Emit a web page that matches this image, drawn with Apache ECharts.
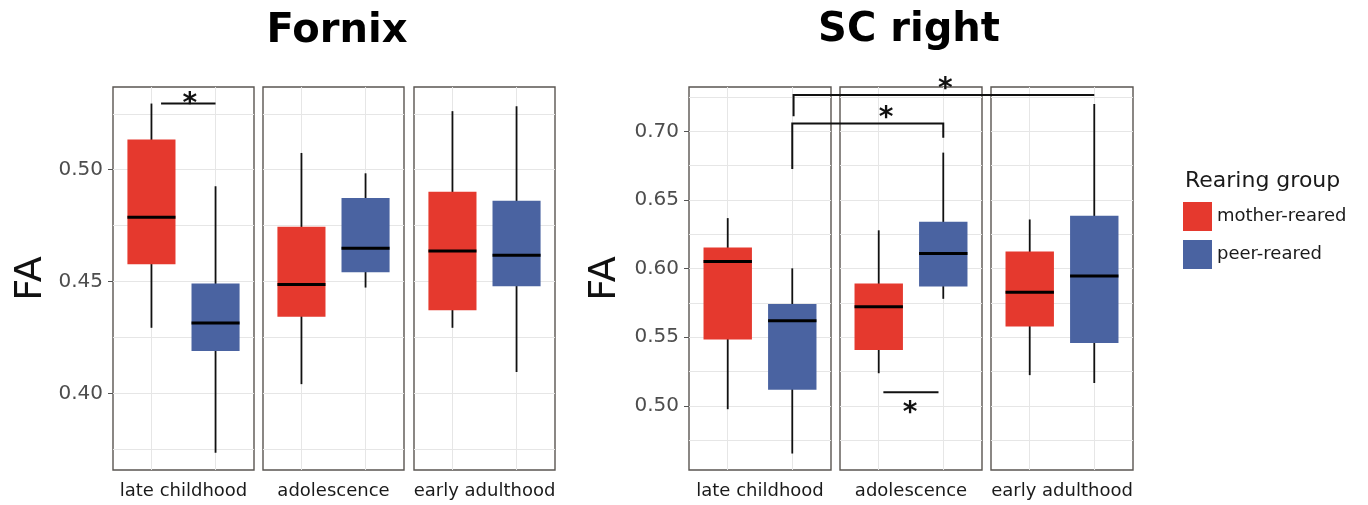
<!DOCTYPE html>
<html>
<head>
<meta charset="utf-8">
<script src="https://cdn.jsdelivr.net/npm/echarts@6/dist/echarts.min.js"></script>
<style>
  html, body { margin: 0; padding: 0; background: #fff; }
  #main { width: 1368px; height: 505px; }
</style>
</head>
<body>
<div id="main"></div>
<script>
// stages shown as facets
var stages = ['late childhood', 'adolescence', 'early adulthood'];
var groups = ['mother-reared', 'peer-reared'];

// box stats per stage: [min, Q1, median, Q3, max]
var fornixMother = [
    [0.4293, 0.4577, 0.4788, 0.5135, 0.5296],
    [0.4041, 0.4342, 0.4487, 0.4745, 0.5075],
    [0.4293, 0.4371, 0.4636, 0.4902, 0.5262]
];
var fornixPeer = [
    [0.3734, 0.4189, 0.4315, 0.4491, 0.4926],
    [0.4473, 0.4541, 0.4649, 0.4874, 0.4984],
    [0.4095, 0.4479, 0.4618, 0.4861, 0.5284]
];
var scMother = [
    [0.4976, 0.5484, 0.6051, 0.6154, 0.6368],
    [0.5238, 0.5407, 0.5723, 0.5892, 0.6279],
    [0.5224, 0.5578, 0.5827, 0.6125, 0.6358]
];
var scPeer = [
    [0.4653, 0.5118, 0.5621, 0.5742, 0.6002],
    [0.5780, 0.5870, 0.6110, 0.6342, 0.6845],
    [0.5166, 0.5458, 0.5947, 0.6385, 0.7199]
];

// axis ticks and grid lines
var fornixTicks = [0.40, 0.45, 0.50];
var fornixLines = [0.375, 0.40, 0.425, 0.45, 0.475, 0.50, 0.525];
var scTicks = [0.50, 0.55, 0.60, 0.65, 0.70];
var scLines = [0.475, 0.50, 0.525, 0.55, 0.575, 0.60, 0.625, 0.65, 0.675, 0.70, 0.725];

var RED = '#e5392e';
var BLUE = '#4a63a1';
var FONT = '"DejaVu Sans", sans-serif';

var panels = [
    { title: 'Fornix', mother: fornixMother, peer: fornixPeer, ticks: fornixTicks, lines: fornixLines,
      min: 0.3657, max: 0.5370, lefts: [113, 263, 414], width: 141, nameGap: 63 },
    { title: 'SC right', mother: scMother, peer: scPeer, ticks: scTicks, lines: scLines,
      min: 0.4533, max: 0.7323, lefts: [689, 840, 991], width: 142, nameGap: 65 }
];

function renderBox(params, api) {
    var x = api.value(0);
    var lo = api.coord([x, api.value(1)]);
    var q1 = api.coord([x, api.value(2)]);
    var med = api.coord([x, api.value(3)]);
    var q3 = api.coord([x, api.value(4)]);
    var hi = api.coord([x, api.value(5)]);
    var w = api.size([0.75, 0])[0];
    return {
        type: 'group',
        children: [
            { type: 'line', shape: { x1: lo[0], y1: lo[1], x2: hi[0], y2: hi[1] },
              style: { stroke: '#111', lineWidth: 1.8 } },
            { type: 'rect', shape: { x: q3[0] - w / 2, y: q3[1], width: w, height: q1[1] - q3[1] },
              style: { fill: api.visual('color') } },
            { type: 'line', shape: { x1: med[0] - w / 2, y1: med[1], x2: med[0] + w / 2, y2: med[1] },
              style: { stroke: '#000', lineWidth: 3 } }
        ]
    };
}

var grid = [], xAxis = [], yAxis = [], series = [];
panels.forEach(function (p, pi) {
    stages.forEach(function (st, fi) {
        var gi = pi * 3 + fi;
        grid.push({ left: p.lefts[fi], top: 87, width: p.width, height: 386,
                    show: true, borderColor: '#5a5551', borderWidth: 1.4, backgroundColor: '#fff' });
        xAxis.push({
            gridIndex: gi, type: 'value', min: 0.4, max: 2.6,
            axisLine: { show: false },
            axisTick: { show: false, customValues: [1, 2] },
            axisLabel: { show: false },
            splitLine: { show: true, lineStyle: { color: '#e6e6e6', width: 1 } },
            name: st, nameLocation: 'middle', nameGap: 12,
            nameTextStyle: { fontSize: 18, color: '#1a1a1a', fontFamily: FONT }
        });
        yAxis.push({
            gridIndex: gi, type: 'value', min: p.min, max: p.max,
            axisLine: { show: false },
            axisTick: { show: false, customValues: p.lines },
            axisLabel: { show: false },
            splitLine: { show: true, lineStyle: { color: '#e6e6e6', width: 1 } }
        });
        [p.mother, p.peer].forEach(function (arr, k) {
            series.push({
                type: 'custom',
                name: groups[k],
                xAxisIndex: gi, yAxisIndex: gi,
                itemStyle: { color: k === 0 ? RED : BLUE },
                renderItem: renderBox,
                encode: { x: 0, y: [1, 2, 3, 4, 5] },
                data: [[k + 1].concat(arr[fi])],
                clip: false,
                silent: true
            });
        });
    });
});

// label axes on the first facet of each panel
panels.forEach(function (p, pi) {
    yAxis.push({
        gridIndex: pi * 3, type: 'value', min: p.min, max: p.max, position: 'left',
        axisLine: { show: false },
        axisTick: { show: true, length: 5, customValues: p.ticks, lineStyle: { color: '#555' } },
        axisLabel: { customValues: p.ticks, margin: 10, fontSize: 20, color: '#4d4d4d', fontFamily: FONT,
                     formatter: function (v) { return v.toFixed(2); } },
        splitLine: { show: false },
        name: 'FA', nameLocation: 'middle', nameRotate: 90, nameGap: p.nameGap,
        nameTextStyle: { fontSize: 38, color: '#111', fontFamily: FONT }
    });
});

var chart = echarts.init(document.getElementById('main'));
chart.setOption({
    animation: false,
    backgroundColor: '#fff',
    grid: grid,
    xAxis: xAxis,
    yAxis: yAxis,
    series: series,
    legend: {
        data: [{ name: groups[0], itemStyle: { color: RED } }, { name: groups[1], itemStyle: { color: BLUE } }],
        orient: 'vertical', left: 1183, top: 202, padding: 0,
        icon: 'rect', itemWidth: 29, itemHeight: 29, itemGap: 9,
        selectedMode: false,
        textStyle: { fontSize: 18, color: '#1a1a1a', fontFamily: FONT }
    }
});

// significance marks, placed in data space of the facet series
function px(s, x, y) { return chart.convertToPixel({ seriesIndex: s }, [x, y]); }
var BLACK = '#111';
function seg(a, b) {
    return { type: 'polyline', shape: { points: [a, b] }, style: { stroke: BLACK, lineWidth: 2 }, z: 100 };
}
function star(p) {
    return { type: 'text', x: p[0], y: p[1] + 7, z: 100,
             style: { text: '*', font: 'bold 28px ' + FONT, fill: BLACK, textAlign: 'center', textVerticalAlign: 'middle' } };
}
var g = [];
// Fornix, late childhood
g.push(seg(px(0, 1.15, 0.5296), px(0, 2.0, 0.5296)));
g.push(star(px(0, 1.60, 0.5320)));
// SC right: late childhood peer vs adolescence peer
g.push({ type: 'polyline', z: 100, style: { stroke: BLACK, lineWidth: 2, fill: null },
         shape: { points: [px(6, 2, 0.6725), px(6, 2, 0.7057), px(8, 2, 0.7057), px(8, 2, 0.6954)] } });
g.push(star(px(8, 1.114, 0.7146)));
// SC right: late childhood peer vs early adulthood peer
g.push({ type: 'polyline', z: 100, style: { stroke: BLACK, lineWidth: 2, fill: null },
         shape: { points: [px(6, 2.02, 0.7110), px(6, 2.02, 0.7264), px(10, 2, 0.7264)] } });
g.push(star(px(8, 2.03, 0.7351)));
// SC right: adolescence mother vs peer
g.push(seg(px(8, 1.072, 0.5099), px(8, 1.926, 0.5099)));
g.push(star(px(8, 1.487, 0.4991)));

// titles and legend heading
g.push({ type: 'text', x: 337, y: 32, style: { text: 'Fornix', font: 'bold 40px ' + FONT, fill: '#000',
         textAlign: 'center', textVerticalAlign: 'middle' } });
g.push({ type: 'text', x: 909, y: 31, style: { text: 'SC right', font: 'bold 40px ' + FONT, fill: '#000',
         textAlign: 'center', textVerticalAlign: 'middle' } });
g.push({ type: 'text', x: 1185, y: 181, style: { text: 'Rearing group', font: '22px ' + FONT, fill: '#1a1a1a',
         textAlign: 'left', textVerticalAlign: 'middle' } });

chart.setOption({ graphic: g });
</script>
</body>
</html>
